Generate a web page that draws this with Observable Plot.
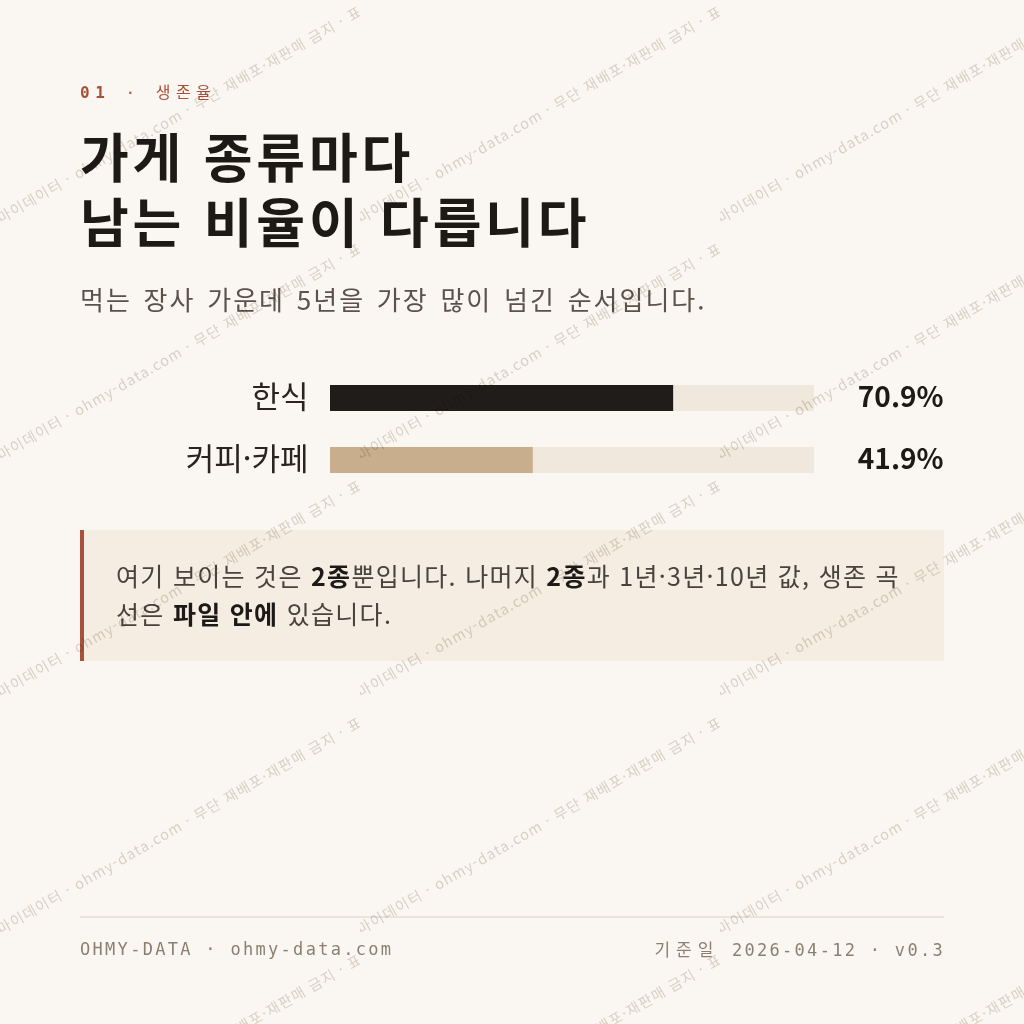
<!DOCTYPE html>
<html lang="ko">
<head>
<meta charset="utf-8">
<script src="https://cdn.jsdelivr.net/npm/d3@7"></script>
<script src="https://cdn.jsdelivr.net/npm/@observablehq/plot@0.6"></script>
<style>
  html, body { margin: 0; padding: 0; }
  body {
    width: 1024px; height: 1024px; position: relative; overflow: hidden;
    background: #faf7f2;
    font-family: "Noto Sans CJK KR", "Noto Sans", sans-serif;
  }
  .abs { position: absolute; }
  #kicker {
    left: 80px; top: 81px; font-family: "DejaVu Sans Mono", monospace;
    font-size: 16px; line-height: 20px; letter-spacing: 5.5px; color: #a8503a;
  }
  #kicker b { font-weight: 700; }
  #kicker .ko { font-family: "Noto Sans CJK KR", sans-serif; font-weight: 400; }
  #title {
    left: 80px; top: 123px; font-size: 53px; line-height: 65px; font-weight: 700;
    color: #1c1917; letter-spacing: 3.8px; margin: 0; white-space: nowrap;
  }
  #subtitle {
    left: 80px; top: 284px; font-size: 26px; line-height: 30px; color: #5a524b;
    letter-spacing: 2px; word-spacing: 2.5px; white-space: nowrap;
  }
  #chart { left: 80px; top: 367px; }
  #note {
    left: 80px; top: 530px; width: 864px; height: 131px; box-sizing: border-box;
    background: rgba(240, 229, 214, 0.55); border-left: 4px solid #a8513a;
    padding: 26px 0 0 32px; font-size: 25px; line-height: 38px; color: #4a423c;
    letter-spacing: 1.3px; white-space: nowrap;
  }
  #note b { color: #1c1917; font-weight: 700; }
  #rule { left: 80px; top: 916px; width: 864px; height: 2px; background: #ebe4d9; }
  .foot {
    top: 939px; font-family: "DejaVu Sans Mono", monospace; font-size: 17px;
    line-height: 20px; letter-spacing: 2.3px; color: #8c7f72; white-space: nowrap;
  }
  #footL { left: 80px; }
  #footR { right: 79px; text-align: right; }
  #footR .ko { font-family: "Noto Sans CJK KR", sans-serif; letter-spacing: 6px; }
  #wm { left: 0; top: 0; pointer-events: none; mix-blend-mode: multiply; }
</style>
</head>
<body>
<div id="kicker" class="abs"><b>01</b> · <span class="ko">생존율</span></div>
<h1 id="title" class="abs">가게 종류마다<br>남는 비율이 다릅니다</h1>
<div id="subtitle" class="abs">먹는 장사 가운데 5년을 가장 많이 넘긴 순서입니다.</div>
<div id="chart" class="abs"></div>
<div id="note" class="abs">여기 보이는 것은 <b>2종</b>뿐입니다. 나머지 <b>2종</b>과 1년·3년·10년 값, 생존 곡<br>선은 <b>파일 안에</b> 있습니다.</div>
<div id="rule" class="abs"></div>
<div id="footL" class="abs foot">OHMY-DATA · ohmy-data.com</div>
<div id="footR" class="abs foot"><span class="ko">기준일</span> 2026-04-12 · v0.3</div>
<svg id="wm" class="abs" width="1024" height="1024">
  <defs>
    <pattern id="wmp" patternUnits="userSpaceOnUse" width="360" height="237">
      <text x="-8" y="229" transform="rotate(-30 -8 229)" font-size="14.5" letter-spacing="1.2"
        fill="#ddd7d0" font-family="Noto Sans CJK KR, sans-serif">· 마이데이터 · ohmy-data.com · 무단 재배포·재판매 금지 · 표본 출처 표기</text>
    </pattern>
  </defs>
  <rect width="1024" height="1024" fill="url(#wmp)"></rect>
</svg>
<script>
const categories = ["한식", "커피·카페"];
const rates = [70.9, 41.9];
const barColors = ["#201c19", "#c9ae8d"];
const trackColor = "#f0e8dc";
const domainMax = 100;

const rows = categories.map((c, i) => ({category: c, rate: rates[i], color: barColors[i]}));

const chart = Plot.plot({
  width: 864,
  height: 124,
  marginLeft: 250,
  marginRight: 130,
  marginTop: 0,
  marginBottom: 0,
  x: {domain: [0, domainMax], axis: null},
  y: {domain: categories, axis: null, padding: 0},
  color: {type: "identity"},
  style: {background: "transparent", fontFamily: "'Noto Sans CJK KR', sans-serif", overflow: "visible"},
  marks: [
    Plot.barX(rows, {y: "category", x1: 0, x2: domainMax, fill: trackColor, insetTop: 18, insetBottom: 18}),
    Plot.barX(rows, {y: "category", x1: 0, x2: "rate", fill: d => d.color, insetTop: 18, insetBottom: 18}),
    Plot.text(rows, {y: "category", x: 0, text: "category", dx: -22, textAnchor: "end", fontSize: 31, fill: "#2a2420"}),
    Plot.text(rows, {y: "category", x: domainMax, text: d => d.rate.toFixed(1) + "%", dx: 129, textAnchor: "end", fontSize: 28, fontWeight: 700, fill: "#1c1917"})
  ]
});
document.getElementById("chart").appendChild(chart);
</script>
</body>
</html>
